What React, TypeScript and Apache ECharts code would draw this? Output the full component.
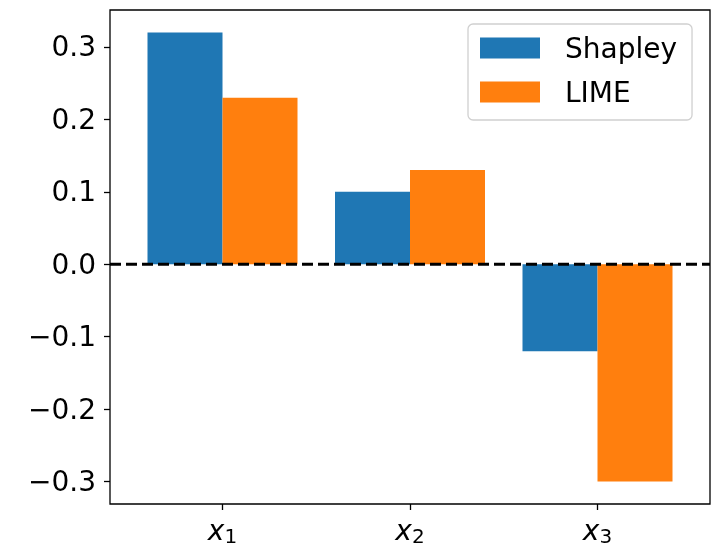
import React, { useEffect, useRef } from "react";
import * as echarts from "echarts";

const categories = ["1", "2", "3"];
const seriesNames = ["Shapley", "LIME"];
const shapley = [0.32, 0.1, -0.12];
const lime = [0.23, 0.13, -0.3];
const yTicks = [-0.3, -0.2, -0.1, 0, 0.1, 0.2, 0.3];
const xTicks = [0, 1, 2];

const COLORS = ["#1f77b4", "#ff7f0e"];
const FONT = "DejaVu Sans";

function barSeries(name: string, values: number[], offset: number, color: string) {
  return {
    name,
    type: "custom",
    itemStyle: { color },
    encode: { x: 0, y: 1 },
    data: values.map((v, i) => [i, v]),
    renderItem: (params: any, api: any) => {
      const i = api.value(0);
      const v = api.value(1);
      const p0 = api.coord([i + offset, v]);
      const p1 = api.coord([i + offset + 0.4, 0]);
      return {
        type: "rect",
        shape: {
          x: Math.min(p0[0], p1[0]),
          y: Math.min(p0[1], p1[1]),
          width: Math.abs(p1[0] - p0[0]),
          height: Math.abs(p1[1] - p0[1]),
        },
        style: { fill: color },
      };
    },
  };
}

export default function App() {
  const ref = useRef<HTMLDivElement>(null);
  useEffect(() => {
    const chart = echarts.init(ref.current!, undefined, { renderer: "svg" });
    chart.setOption({
      animation: false,
      textStyle: { fontFamily: FONT },
      grid: {
        left: 110,
        right: 7,
        top: 10,
        bottom: 43,
        show: true,
        borderColor: "#000",
        borderWidth: 1.3,
      },
      xAxis: {
        type: "value",
        min: -0.6,
        max: 2.6,
        axisLine: { show: false, onZero: false },
        splitLine: { show: false },
        axisTick: { show: true, length: 6, lineStyle: { color: "#000", width: 1.3 }, customValues: xTicks },
        axisLabel: {
          customValues: xTicks,
          margin: 10,
          formatter: (v: number) => `{x|x}{s|${categories[Math.round(v)]}}`,
          rich: {
            x: { fontSize: 28, fontStyle: "italic", fontFamily: FONT, color: "#000" },
            s: { fontSize: 20, fontFamily: FONT, color: "#000", padding: [12, 0, 0, 0] },
          },
        },
      },
      yAxis: {
        type: "value",
        min: -0.331,
        max: 0.351,
        axisLine: { show: false, onZero: false },
        splitLine: { show: false },
        axisTick: { show: true, length: 6, lineStyle: { color: "#000", width: 1.3 }, customValues: yTicks },
        axisLabel: {
          customValues: yTicks,
          margin: 14,
          fontSize: 28,
          color: "#000",
          fontFamily: FONT,
          formatter: (v: number) => (v < 0 ? "\u2212" + Math.abs(v).toFixed(1) : v.toFixed(1)),
        },
      },
      legend: {
        data: seriesNames.map((n) => ({ name: n, icon: "rect" })),
        orient: "vertical",
        left: 468,
        top: 24,
        padding: [8, 15, 12, 12],
        itemWidth: 60,
        itemHeight: 21,
        itemGap: 12,
        borderColor: "#d0d0d0",
        borderWidth: 1.3,
        borderRadius: 5,
        backgroundColor: "#fff",
        textStyle: { fontSize: 28, lineHeight: 32, color: "#000", fontFamily: FONT, padding: [0, 0, 0, 20] },
      },
      series: [
        barSeries(seriesNames[0], shapley, -0.4, COLORS[0]),
        barSeries(seriesNames[1], lime, 0, COLORS[1]),
        {
          type: "line",
          data: [
            [-0.6, 0],
            [2.6, 0],
          ],
          symbol: "none",
          silent: true,
          lineStyle: { color: "#000", width: 2.8, type: [11, 5] },
          z: 5,
        },
      ],
    });
    return () => chart.dispose();
  }, []);
  return <div ref={ref} style={{ position: "fixed", left: 0, top: 0, width: 717, height: 547 }} />;
}
